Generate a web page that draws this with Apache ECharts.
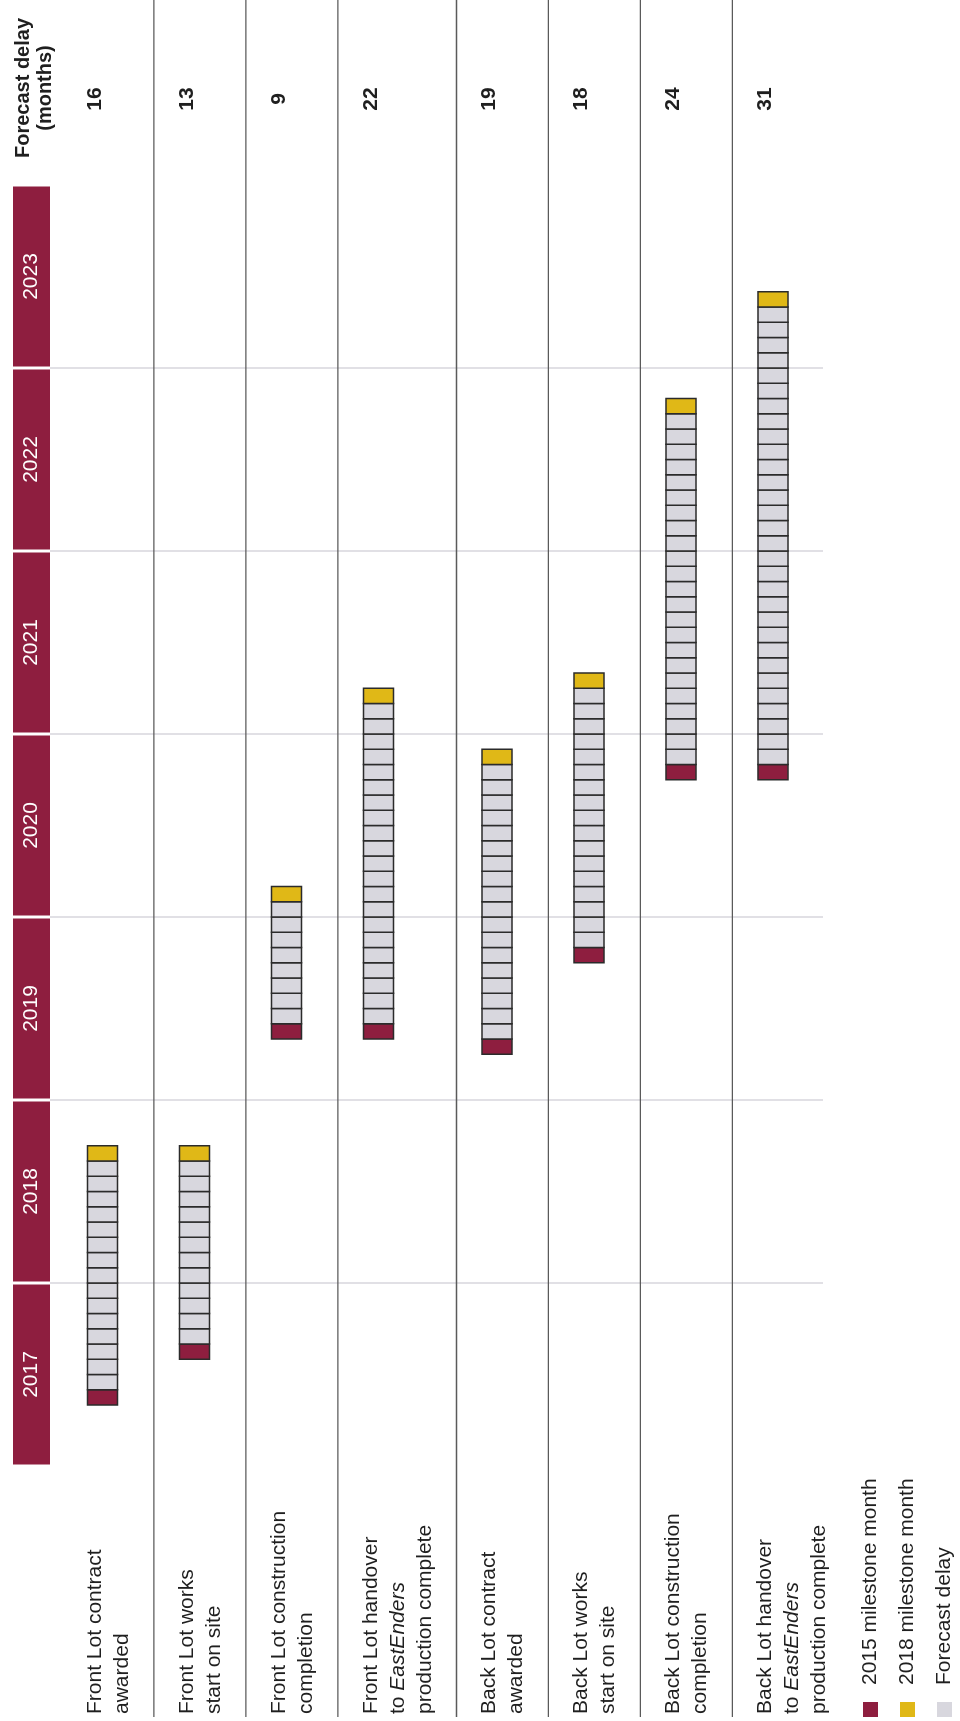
<!DOCTYPE html>
<html>
<head>
<meta charset="utf-8">
<title>Forecast delay to milestones</title>
<script src="https://cdn.jsdelivr.net/npm/echarts@6/dist/echarts.min.js"></script>
<style>
  html, body { margin: 0; padding: 0; background: #fff; overflow: hidden; }
  body { width: 960px; height: 1721px; position: relative; }
  /* The chart is laid out lying on its side and turned upright here */
  #chart {
    position: absolute; left: 0; top: 0;
    width: 1721px; height: 960px;
    transform-origin: 0 0;
    transform: translate(0, 1721px) rotate(-90deg);
  }
</style>
</head>
<body>
<div id="chart"></div>
<script>
// Milestones, in display order
const milestones = [
  'Front Lot contract\nawarded',
  'Front Lot works\nstart on site',
  'Front Lot construction\ncompletion',
  'Front Lot handover\nto EastEnders\nproduction complete',
  'Back Lot contract\nawarded',
  'Back Lot works\nstart on site',
  'Back Lot construction\ncompletion',
  'Back Lot handover\nto EastEnders\nproduction complete'
];

// Month each milestone was due under the 2015 plan (YYYY-MM)
const milestone2015 = ['2017-05', '2017-08', '2019-05', '2019-05', '2019-04', '2019-10', '2020-10', '2020-10'];

// Forecast delay against the 2015 plan, in months
const forecastDelay = [16, 13, 9, 22, 19, 18, 24, 31];

// Year headings along the time axis
const years = ['2017', '2018', '2019', '2020', '2021', '2022', '2023'];

const FONT = "'Liberation Sans', Arial, Helvetica, sans-serif";
const INK = '#1f1f1f';
const CRIMSON = '#8e1e3f';
const GOLD = '#e0b817';
const MIST = '#d8d7de';
const CELL_EDGE = '#2b2b2b';
const RULE = '#5a5a5a';

// Row layout, measured in label lines
const LINE_PX = 26.64;     // one row unit on screen
const ROW_PAD = 1.45;      // spare room in each row beyond its label lines
const LABEL_INSET = 0.73;  // top of the label block below the row top
const BAR_INSET = 1.52;    // bar centre below the row top
const NUMBER_INSET = 1.24; // delay figure below the row top

const firstYear = Number(years[0]);
const monthIndex = s => {
  const [y, m] = s.split('-').map(Number);
  return (y - firstYear) * 12 + (m - 1);
};
const totalMonths = years.length * 12;

const lineCounts = milestones.map(s => s.split('\n').length);
const rowHeights = lineCounts.map(n => n + ROW_PAD);
const rowTops = rowHeights.map((_, i) => rowHeights.slice(0, i).reduce((a, b) => a + b, 0));
const rowUnits = rowHeights.reduce((a, b) => a + b, 0);
const plotHeight = Math.round(rowUnits * LINE_PX);

// [row, 2015 month index, delay, row top, row height]
const rows = milestones.map((_, i) => [i, monthIndex(milestone2015[i]), forecastDelay[i], rowTops[i], rowHeights[i]]);

// One bar cell per month, drawn through the axes
function cells(api, rowTop, fromMonth, count, fill) {
  const mid = api.coord([fromMonth, rowTop + BAR_INSET])[1];
  const half = 15;
  const children = [];
  for (let k = 0; k < count; k++) {
    const x0 = api.coord([fromMonth + k, rowTop])[0];
    const x1 = api.coord([fromMonth + k + 1, rowTop])[0];
    children.push({
      type: 'rect',
      shape: { x: x0, y: mid - half, width: x1 - x0, height: half * 2 },
      style: { fill: fill, stroke: CELL_EDGE, lineWidth: 1.5 }
    });
  }
  return { type: 'group', children: children };
}

function cellSeries(name, color, pick) {
  return {
    type: 'custom',
    name: name,
    xAxisIndex: 2,
    yAxisIndex: 1,
    itemStyle: { color: color },
    data: rows,
    renderItem: function (params, api) {
      const span = pick(api.value(1), api.value(2));
      return cells(api, api.value(3), span[0], span[1], color);
    }
  };
}

const labelRich = {
  it: { fontStyle: 'italic', fontFamily: FONT, fontSize: 21, lineHeight: 27, fill: INK }
};

const chart = echarts.init(document.getElementById('chart'), null, { renderer: 'canvas' });

chart.setOption({
  animation: false,
  backgroundColor: '#ffffff',
  textStyle: { fontFamily: FONT },
  title: {
    text: 'Forecast delay\n(months)',
    left: 1633,
    top: 12,
    padding: 0,
    textAlign: 'center',
    textStyle: { fontFamily: FONT, fontSize: 20, fontWeight: 'bold', lineHeight: 22, color: INK }
  },
  legend: {
    orient: 'vertical',
    left: 4,
    top: 860,
    padding: 0,
    itemWidth: 15,
    itemHeight: 15,
    itemGap: 16,
    icon: 'rect',
    selectedMode: false,
    data: ['2015 milestone month', '2018 milestone month', 'Forecast delay'],
    itemStyle: { borderWidth: 0 },
    formatter: name => '{gap| }' + name,
    textStyle: {
      fontFamily: FONT, fontSize: 21, lineHeight: 21, color: INK,
      rich: { gap: { width: 12, fontSize: 21, lineHeight: 21 } }
    }
  },
  grid: [
    // year rules and headings
    { left: 255, right: 185, top: 50, height: 773, outerBoundsMode: 'none' },
    // bars and delay figures
    { left: 255, right: 185, top: 62, height: plotHeight, outerBoundsMode: 'none' },
    // full-width row rules and milestone names
    { left: 4, right: 0, top: 62, height: plotHeight, outerBoundsMode: 'none' }
  ],
  xAxis: [
    {
      gridIndex: 0,
      type: 'value',
      min: 0,
      max: totalMonths,
      interval: 12,
      axisLine: { show: false },
      axisTick: { show: false },
      axisLabel: { show: false },
      splitLine: {
        show: true,
        showMinLine: false,
        showMaxLine: false,
        lineStyle: { color: '#d7d6dd', width: 1.5 }
      }
    },
    {
      gridIndex: 0,
      type: 'category',
      position: 'top',
      data: years,
      boundaryGap: true,
      axisLine: { show: false },
      axisTick: { show: false },
      splitLine: { show: false },
      axisLabel: {
        interval: 0,
        margin: 0,
        color: '#ffffff',
        fontFamily: FONT,
        fontSize: 21,
        backgroundColor: CRIMSON,
        width: 180,
        height: 37,
        lineHeight: 37,
        align: 'center',
        verticalAlign: 'bottom'
      }
    },
    { gridIndex: 1, type: 'value', min: 0, max: totalMonths, show: false },
    { gridIndex: 2, type: 'value', min: 0, max: 1, show: false }
  ],
  yAxis: [
    { gridIndex: 0, type: 'value', min: 0, max: 1, show: false },
    { gridIndex: 1, type: 'value', min: 0, max: rowUnits, inverse: true, show: false },
    { gridIndex: 2, type: 'value', min: 0, max: rowUnits, inverse: true, show: false }
  ],
  series: [
    cellSeries('2015 milestone month', CRIMSON, (s, d) => [s, 1]),
    cellSeries('Forecast delay', MIST, (s, d) => [s + 1, d - 1]),
    cellSeries('2018 milestone month', GOLD, (s, d) => [s + d, 1]),
    {
      // rules between milestone rows, across the full width
      type: 'custom',
      name: 'row rules',
      xAxisIndex: 3,
      yAxisIndex: 2,
      silent: true,
      data: rows.slice(0, -1),
      renderItem: function (params, api) {
        const bottom = api.value(3) + api.value(4);
        const a = api.coord([0, bottom]);
        const b = api.coord([1, bottom]);
        return {
          type: 'line',
          shape: { x1: a[0], y1: a[1], x2: b[0], y2: b[1] },
          style: { stroke: RULE, lineWidth: 1.3 }
        };
      }
    },
    {
      // milestone names
      type: 'custom',
      name: 'milestone names',
      xAxisIndex: 3,
      yAxisIndex: 2,
      silent: true,
      data: rows,
      renderItem: function (params, api) {
        const p = api.coord([0, api.value(3) + LABEL_INSET]);
        return {
          type: 'text',
          x: p[0] + 3,
          y: p[1],
          style: {
            text: milestones[api.value(0)].replace('EastEnders', '{it|EastEnders}'),
            rich: labelRich,
            fill: INK,
            fontFamily: FONT,
            fontSize: 21,
            lineHeight: 27,
            align: 'left',
            verticalAlign: 'top'
          }
        };
      }
    },
    {
      // forecast delay figures beside the time line
      type: 'custom',
      name: 'delay figures',
      xAxisIndex: 2,
      yAxisIndex: 1,
      silent: true,
      data: rows,
      renderItem: function (params, api) {
        const p = api.coord([totalMonths, api.value(3) + NUMBER_INSET]);
        return {
          type: 'text',
          x: p[0] + 86,
          y: p[1],
          style: {
            text: String(api.value(2)),
            fill: INK,
            fontFamily: FONT,
            fontSize: 21,
            fontWeight: 'bold',
            align: 'center',
            verticalAlign: 'middle'
          }
        };
      }
    }
  ]
});
</script>
</body>
</html>
